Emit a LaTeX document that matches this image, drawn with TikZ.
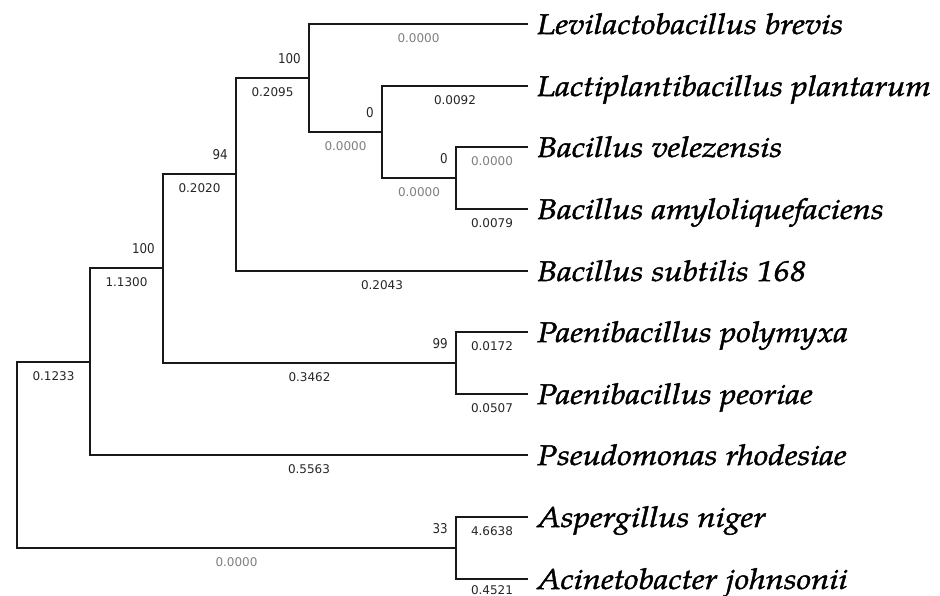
\documentclass[tikz,border=0pt]{standalone}
\usepackage{fontspec}
\newfontfamily\pal[FakeStretch=1.15,FakeBold=1.6]{TeX Gyre Pagella}
\newfontfamily\lab{DejaVu Sans}
\newfontfamily\bootf[FakeStretch=0.88]{DejaVu Sans}
\begin{document}
\begin{tikzpicture}[x=1pt,y=-1pt,
  br/.style={line width=1.2pt, draw=black!90},
  leaf/.style={anchor=west, font=\pal\itshape\fontsize{28.5}{28.5}\selectfont,
    inner xsep=9pt, inner ysep=0pt, text height=20pt, text depth=0pt},
  boot/.style={anchor=east, font=\bootf\fontsize{13.5}{13.5}\selectfont,
    text=black!85, inner sep=0pt, xshift=-8pt, yshift=19pt},
  blen/.style={font=\lab\fontsize{12}{12}\selectfont, text=black!85,
    inner sep=0pt, pos=0.75, yshift=-14pt},
  zero/.style={blen, text=black!50}
]
\useasboundingbox (0,0) rectangle (940,596);
% internal nodes
\coordinate (R) at (17,455);
\coordinate (B) at (90,362);
\coordinate (C) at (163,268);
\coordinate (D) at (236,174);
\coordinate (E) at (309,78);
\coordinate (F) at (382,132);
\coordinate (G) at (456,178);
\coordinate (P) at (456,363);
\coordinate (A) at (456,548);
% leaves
\node[leaf] (l1) at (528,24) {Levilactobacillus brevis};
\node[leaf] (l2) at (528,86) {Lactiplantibacillus plantarum};
\node[leaf] (l3) at (528,147) {Bacillus velezensis};
\node[leaf] (l4) at (528,209) {Bacillus amyloliquefaciens};
\node[leaf] (l5) at (528,271) {Bacillus subtilis 168};
\node[leaf] (l6) at (528,332) {Paenibacillus polymyxa};
\node[leaf] (l7) at (528,394) {Paenibacillus peoriae};
\node[leaf] (l8) at (528,455) {Pseudomonas rhodesiae};
\node[leaf] (l9) at (528,517) {Aspergillus niger};
\node[leaf] (l10) at (528,579) {Acinetobacter johnsonii};
% branches
\draw[br] (R) |- node[blen]{0.1233} (B);
\draw[br] (R) |- node[zero]{0.0000} (A);
\draw[br] (B) |- node[blen]{1.1300} (C);
\draw[br] (B) |- node[blen]{0.5563} (l8.west);
\draw[br] (C) |- node[blen]{0.2020} (D);
\draw[br] (C) |- node[blen]{0.3462} (P);
\draw[br] (D) |- node[blen]{0.2095} (E);
\draw[br] (D) |- node[blen]{0.2043} (l5.west);
\draw[br] (E) |- node[zero]{0.0000} (l1.west);
\draw[br] (E) |- node[zero]{0.0000} (F);
\draw[br] (F) |- node[blen]{0.0092} (l2.west);
\draw[br] (F) |- node[zero]{0.0000} (G);
\draw[br] (G) |- node[zero]{0.0000} (l3.west);
\draw[br] (G) |- node[blen]{0.0079} (l4.west);
\draw[br] (P) |- node[blen]{0.0172} (l6.west);
\draw[br] (P) |- node[blen]{0.0507} (l7.west);
\draw[br] (A) |- node[blen]{4.6638} (l9.west);
\draw[br] (A) |- node[blen, yshift=2.5pt]{0.4521} (l10.west);
% bootstrap values
\node[boot] (bE) at (E) {100};
\node[boot] (bF) at (F) {0};
\node[boot] (bG) at (G) {0};
\node[boot] (bD) at (D) {94};
\node[boot] (bC) at (C) {100};
\node[boot] (bP) at (P) {99};
\node[boot] (bA) at (A) {33};
\end{tikzpicture}
\end{document}
